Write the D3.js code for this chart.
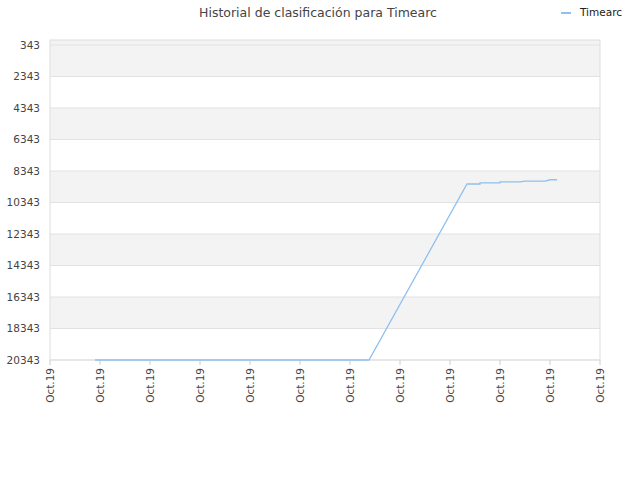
<!DOCTYPE html>
<html><head><meta charset="utf-8">
<script src="https://cdn.jsdelivr.net/npm/d3@7"></script>
<style>body{margin:0;background:#fff}</style></head>
<body><svg id="c" width="640" height="480"></svg>
<script>
const title = "Historial de clasificación para Timearc";
const seriesName = "Timearc";
const xTickLabels = ["Oct.19","Oct.19","Oct.19","Oct.19","Oct.19","Oct.19","Oct.19","Oct.19","Oct.19","Oct.19","Oct.19","Oct.19"];
const yTicks = [343,2343,4343,6343,8343,10343,12343,14343,16343,18343,20343];
const xIdx = [0.9,6.38,8.34,8.6,8.6,9.0,9.0,9.4,9.5,9.9,10.0,10.14];
const ranks = [20343,20343,9170,9170,9100,9100,9040,9040,8980,8980,8900,8900];

const svg = d3.select("#c");
const L=50,R=600,T=40,B=360;
const x = d3.scaleLinear().domain([0,11]).range([L,R]);
const y = d3.scaleLinear().domain([26,20343]).range([T,B]);
const font="DejaVu Sans, sans-serif";
const edges=[26,...yTicks];
for(let i=0;i<edges.length-1;i++){
  svg.append("rect").attr("x",L).attr("width",R-L).attr("y",y(edges[i])).attr("height",y(edges[i+1])-y(edges[i]))
   .attr("fill", (i%2===1||i===0) ? "#f3f3f3" : "#ffffff");
}
yTicks.forEach(v=>svg.append("line").attr("x1",L).attr("x2",R).attr("y1",y(v)).attr("y2",y(v)).attr("stroke","#e2e2e2"));
svg.append("rect").attr("x",L).attr("y",T).attr("width",R-L).attr("height",B-T).attr("fill","none").attr("stroke","#ddd");
yTicks.forEach(v=>svg.append("text").attr("x",L-10).attr("y",y(v)+4).attr("text-anchor","end")
  .attr("font-family",font).attr("font-size",10.5).attr("fill","#444").text(v));
xTickLabels.forEach((t,i)=>{
  svg.append("line").attr("x1",x(i)).attr("x2",x(i)).attr("y1",B).attr("y2",B+5).attr("stroke","#ccc");
  svg.append("text").attr("transform",`translate(${x(i)+4},${B+8}) rotate(-90)`).attr("text-anchor","end")
   .attr("font-family",font).attr("font-size",10.5).attr("fill","#444").text(t);
});
const data = xIdx.map((d,i)=>[d,ranks[i]]);
svg.append("path").datum(data).attr("fill","none").attr("stroke","#90c0f0").attr("stroke-width",1.3)
  .attr("d",d3.line().x(d=>x(d[0])).y(d=>y(d[1])));
svg.append("text").attr("x",318).attr("y",17).attr("text-anchor","middle").attr("font-family",font)
  .attr("font-size",12.5).attr("fill","#444").text(title);
svg.append("line").attr("x1",561).attr("x2",571).attr("y1",13).attr("y2",13).attr("stroke","#90c0f0").attr("stroke-width",2);
svg.append("text").attr("x",580).attr("y",16).attr("font-family",font).attr("font-size",10.5).attr("fill","#222").text(seriesName);
</script></body></html>
